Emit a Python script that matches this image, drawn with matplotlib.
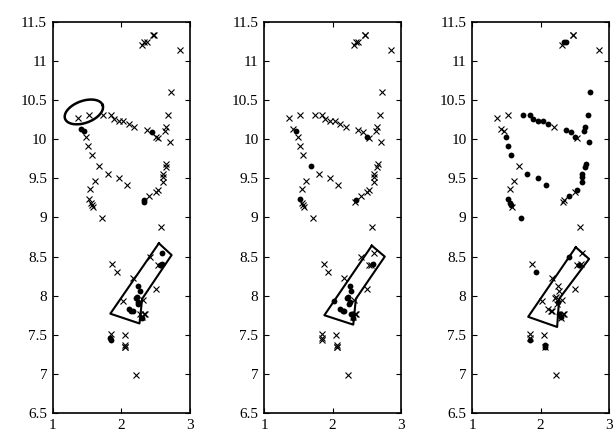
import matplotlib
matplotlib.use("Agg")
import matplotlib.pyplot as plt
import numpy as np

# Shared point cloud (x, y)
px = [1.37, 1.53, 1.42, 1.46, 1.49, 1.52, 1.57, 1.68, 1.80, 1.97,
      2.08, 1.62, 1.55, 1.53, 1.56, 1.57, 1.585, 1.72, 1.74, 1.85,
      1.89, 1.97, 2.03, 2.11, 2.19, 2.37, 2.45, 2.51, 2.54, 2.65,
      2.64, 2.69, 2.72, 2.71, 2.86, 2.31, 2.34, 2.37, 2.47, 2.475,
      2.66, 2.65, 2.61, 2.61, 2.61, 2.54, 2.51, 2.41, 2.34, 2.33,
      2.58, 1.87, 1.94, 2.17, 2.42, 2.60, 2.59, 2.56, 2.53, 2.51,
      2.02, 2.25, 2.27, 2.23, 2.21, 2.25, 2.24, 2.32, 2.11, 2.15,
      2.17, 2.27, 2.30, 2.33, 2.35, 2.30, 1.85, 1.84, 1.85, 2.05,
      2.06, 2.06, 2.06, 2.22]
py = [10.27, 10.31, 10.13, 10.10, 10.03, 9.91, 9.80, 9.66, 9.56, 9.50,
      9.42, 9.47, 9.37, 9.24, 9.19, 9.16, 9.14, 8.99, 10.31, 10.31,
      10.26, 10.24, 10.23, 10.20, 10.16, 10.12, 10.09, 10.03, 10.02, 10.16,
      10.11, 10.31, 10.60, 9.96, 11.14, 11.21, 11.24, 11.25, 11.33, 11.34,
      9.68, 9.64, 9.56, 9.52, 9.46, 9.35, 9.33, 9.27, 9.22, 9.20,
      8.88, 8.41, 8.30, 8.22, 8.49, 8.54, 8.41, 8.39, 8.39, 8.08,
      7.93, 8.12, 8.06, 7.98, 7.97, 7.92, 7.89, 7.95, 7.83, 7.81,
      7.80, 7.76, 7.73, 7.76, 7.77, 7.71, 7.51, 7.46, 7.43, 7.50,
      7.37, 7.35, 7.34, 6.98]

# Marker per point per panel ('o' = dot, 'x' = cross), 10 points per chunk
mark1 = list("xxooxxxxxx" "xxxxxxxxxx" "xxxxxxoxxx" "xxxxxxxxxx"
             "xxxxxxxxoo" "xxxxxoooxx" "xooooooxoo" "oxxxxoxoox" "xxxx")
mark2 = list("xxxoxxxoxx" "xxxoxxxxxx" "xxxxxxxoxx" "xxxxxxxxxx"
             "xxxxxxxxox" "xxxxxxoxxx" "oooooooxoo" "ooxxxoxxxx" "xxxx")
mark3 = list("xxxxoooxoo" "oxxoooxooo" "ooooxoooxo" "ooooxxooxx"
             "ooooooxoxx" "xxoxoxxoxx" "xxxxxoxxxx" "xooxxxxxox" "ooxx")

# Annotation shapes
ell_center = (1.455, 10.35)
ell_axes_px = (40, 22)
ell_angle = 20
poly1_x = [2.55, 2.736, 2.306, 2.267, 1.841]
poly1_y = [8.67, 8.52, 7.96, 7.645, 7.77]
poly2_x = [2.574, 2.763, 2.341, 2.303, 1.881]
poly2_y = [8.64, 8.50, 7.96, 7.63, 7.75]
poly3_x = [2.515, 2.709, 2.272, 2.243, 1.82]
poly3_y = [8.62, 8.47, 7.96, 7.60, 7.73]

xticks = [1, 2, 3]
yticks = [6.5, 7, 7.5, 8, 8.5, 9, 9.5, 10, 10.5, 11, 11.5]
ytick_labels = ["6.5", "7", "7.5", "8", "8.5", "9", "9.5", "10", "10.5", "11", "11.5"]

plt.rcParams['font.family'] = ['Liberation Serif', 'DejaVu Serif']

fig = plt.figure(figsize=(6.13, 4.33), dpi=100)
lefts = [52.7 / 613, 264 / 613, 472 / 613]
W = 137 / 613
B = 1 - 413 / 433
H = (413 - 22) / 433

marks = [mark1, mark2, mark3]
polys = [(poly1_x, poly1_y), (poly2_x, poly2_y), (poly3_x, poly3_y)]
xa = np.array(px)
ya = np.array(py)

for i in range(3):
    ax = fig.add_axes([lefts[i], B, W, H])
    m = np.array(marks[i])
    sel_x = m == 'x'
    sel_o = m == 'o'
    ax.plot(xa[sel_x], ya[sel_x], linestyle='none', marker='x', color='black',
            markersize=4.2, markeredgewidth=0.8)
    ax.plot(xa[sel_o], ya[sel_o], linestyle='none', marker='o', color='black',
            markersize=4.2, markeredgewidth=0)
    pxs, pys = polys[i]
    ax.plot(pxs + [pxs[0]], pys + [pys[0]], color='black', linewidth=1.5)
    ax.set_xlim(1, 3)
    ax.set_ylim(6.5, 11.5)
    ax.set_xticks(xticks)
    ax.set_yticks(yticks)
    ax.set_yticklabels(ytick_labels)
    ax.tick_params(direction='in', top=True, right=True, labelsize=11,
                   length=3.5, width=0.8, pad=4)
    for s in ax.spines.values():
        s.set_linewidth(1.2)
    if i == 0:
        t = np.linspace(0, 2 * np.pi, 200)
        a, b = ell_axes_px[0] / 2, ell_axes_px[1] / 2
        th = np.deg2rad(ell_angle)
        dxp = a * np.cos(t) * np.cos(th) - b * np.sin(t) * np.sin(th)
        dyp = a * np.cos(t) * np.sin(th) + b * np.sin(t) * np.cos(th)
        sx = 137 / 2.0
        sy = 391 / 5.0
        ax.plot(ell_center[0] + dxp / sx, ell_center[1] + dyp / sy,
                color='black', linewidth=1.8)

fig.savefig("out.png", dpi=100)
